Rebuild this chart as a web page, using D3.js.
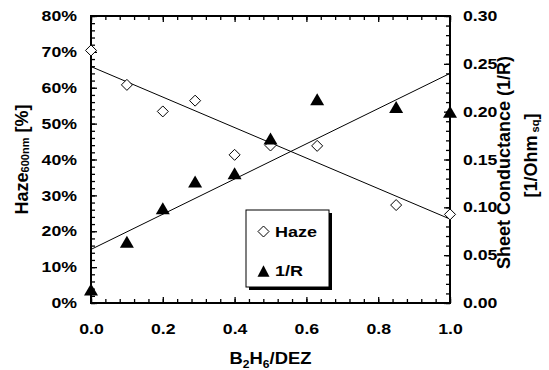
<!DOCTYPE html>
<html><head><meta charset="utf-8">
<script src="https://cdn.jsdelivr.net/npm/d3@7"></script>
<style>
body{margin:0;background:#fff;}
svg{display:block;font-family:"Liberation Sans",Arial,sans-serif;font-weight:bold;}
</style></head><body>
<svg id="c" width="549" height="370"></svg>
<script>
const ratio = [0, 0.1, 0.2, 0.29, 0.4, 0.5, 0.63, 0.85, 1.0];
const haze = [70.4, 60.8, 53.4, 56.4, 41.3, 43.9, 43.8, 27.3, 24.7];
const conductance = [0.014, 0.064, 0.099, 0.127, 0.1355, 0.172, 0.213, 0.205, 0.200];
const fitX = [0, 1];
const hazeFit = [65.9, 23.4];
const condFit = [0.056, 0.240];
const xMajor = [0, 0.2, 0.4, 0.6, 0.8, 1.0];
const leftMajor = [0, 10, 20, 30, 40, 50, 60, 70, 80];
const rightMajor = [0, 0.05, 0.10, 0.15, 0.20, 0.25, 0.30];

const L = 91, R = 450, T = 16, B = 303;
const K = 1.22; // horizontal stretch of the reference's lettering
const svg = d3.select("#c");
const x = d3.scaleLinear([0, 1], [L, R]);
const yL = d3.scaleLinear([0, 80], [B, T]);
const yR = d3.scaleLinear([0, 0.3], [B, T]);

const xMinor = d3.range(0, 26).map(i => i * 0.04);
const lMinor = d3.range(0, 41).map(i => i * 2);
const rMinor = d3.range(0, 31).map(i => i * 0.01);

function styleAxis(g){ g.select(".domain").remove(); g.selectAll("line").attr("stroke","#000").attr("stroke-width",1.3); }
function stretch(sel, k){ sel.each(function(){ const w = this.getComputedTextLength(); this.setAttribute("textLength", w*k); this.setAttribute("lengthAdjust","spacingAndGlyphs"); }); }

// minor ticks
svg.append("g").attr("transform",`translate(0,${B})`).call(d3.axisBottom(x).tickValues(xMinor).tickSize(-4).tickFormat("")).call(styleAxis);
svg.append("g").attr("transform",`translate(0,${T})`).call(d3.axisTop(x).tickValues(xMinor).tickSize(-4).tickFormat("")).call(styleAxis);
svg.append("g").attr("transform",`translate(${L},0)`).call(d3.axisLeft(yL).tickValues(lMinor).tickSize(-4).tickFormat("")).call(styleAxis);
svg.append("g").attr("transform",`translate(${R},0)`).call(d3.axisRight(yR).tickValues(rMinor).tickSize(-4).tickFormat("")).call(styleAxis);

// major ticks with labels
const fs = 14.5;
function styleLabels(sel){ sel.attr("font-size",fs).attr("font-weight","bold").attr("font-family","Liberation Sans, Arial").attr("fill","#000"); }
const gx = svg.append("g").attr("transform",`translate(0,${B})`).call(d3.axisBottom(x).tickValues(xMajor).tickSize(-6).tickFormat(d3.format(".1f"))).call(styleAxis);
gx.selectAll("text").attr("y",31).attr("dy",null).call(styleLabels).call(stretch, K);
svg.append("g").attr("transform",`translate(0,${T})`).call(d3.axisTop(x).tickValues(xMajor).tickSize(-6).tickFormat("")).call(styleAxis);
const gl = svg.append("g").attr("transform",`translate(${L},0)`).call(d3.axisLeft(yL).tickValues(leftMajor).tickSize(-6).tickFormat(d => d + "%")).call(styleAxis);
gl.selectAll("text").attr("x",-14).call(styleLabels).call(stretch, K);
const gr = svg.append("g").attr("transform",`translate(${R},0)`).call(d3.axisRight(yR).tickValues(rightMajor).tickSize(-6).tickFormat(d3.format(".2f"))).call(styleAxis);
gr.selectAll("text").attr("x",13).call(styleLabels).call(stretch, K);

// frame
svg.append("rect").attr("x",L).attr("y",T).attr("width",R-L).attr("height",B-T).attr("fill","none").attr("stroke","#000").attr("stroke-width",2);

// fit lines
const pts = fitX.map((d,i)=>({x:d,h:hazeFit[i],c:condFit[i]}));
svg.append("path").datum(pts).attr("d",d3.line().x(d=>x(d.x)).y(d=>yL(d.h))).attr("fill","none").attr("stroke","#000").attr("stroke-width",1);
svg.append("path").datum(pts).attr("d",d3.line().x(d=>x(d.x)).y(d=>yR(d.c))).attr("fill","none").attr("stroke","#000").attr("stroke-width",1);

const diamond = (cx,cy,r)=>`M${cx},${cy-r}L${cx+r},${cy}L${cx},${cy+r}L${cx-r},${cy}Z`;
const tri = (cx,cy,w,h)=>`M${cx},${cy-h/2}L${cx+w/2},${cy+h/2}L${cx-w/2},${cy+h/2}Z`;

// haze diamonds
svg.append("g").selectAll("path").data(ratio).join("path")
  .attr("d",(d,i)=>diamond(x(d),yL(haze[i]),5.5)).attr("fill","#fff").attr("stroke","#000").attr("stroke-width",1);
// conductance triangles
svg.append("g").selectAll("path").data(ratio).join("path")
  .attr("d",(d,i)=>tri(x(d),yR(conductance[i]),14,12)).attr("fill","#000");

// legend
const lg = svg.append("g");
lg.append("rect").attr("x",249).attr("y",213).attr("width",83).attr("height",77).attr("fill","#000");
lg.append("rect").attr("x",246).attr("y",210).attr("width",83).attr("height",77).attr("fill","#fff").attr("stroke","#000").attr("stroke-width",1);
lg.append("path").attr("d",diamond(263.5,231.5,5.5)).attr("fill","#fff").attr("stroke","#000");
lg.append("path").attr("d",tri(263.5,271,12,11.5)).attr("fill","#000");
lg.append("text").attr("x",275).attr("y",236.5).attr("font-size",14.5).text("Haze").call(stretch, 1.24);
lg.append("text").attr("x",275).attr("y",276).attr("font-size",14.5).text("1/R").call(stretch, 1.24);

// axis titles
const xt = svg.append("text").attr("transform",`translate(${(L+R)/2},364) scale(1.15,1)`).attr("text-anchor","middle").attr("font-size",16);
xt.append("tspan").text("B");
xt.append("tspan").attr("font-size",10.5).attr("dy",4).text("2");
xt.append("tspan").attr("dy",-4).text("H");
xt.append("tspan").attr("font-size",10.5).attr("dy",4).text("6");
xt.append("tspan").attr("dy",-4).text("/DEZ");

const lt = svg.append("text").attr("transform",`translate(28,${(T+B)/2}) rotate(-90)`).attr("text-anchor","middle").attr("font-size",18);
lt.append("tspan").text("Haze");
lt.append("tspan").attr("font-size",11).attr("dy",1).text("600nm");
lt.append("tspan").attr("dy",-1).text(" [%]");

svg.append("text").attr("transform",`translate(510,${(T+B)/2+3}) rotate(-90)`).attr("text-anchor","middle").attr("font-size",18).text("Sheet Conductance (1/R)");
const rt2 = svg.append("text").attr("transform",`translate(537,${(T+B)/2-4}) rotate(-90)`).attr("text-anchor","middle").attr("font-size",18);
rt2.append("tspan").text("[1/Ohm");
rt2.append("tspan").attr("font-size",11).attr("dy",2).text(" sq");
rt2.append("tspan").attr("dy",-2).text("]");
</script>
</body></html>
